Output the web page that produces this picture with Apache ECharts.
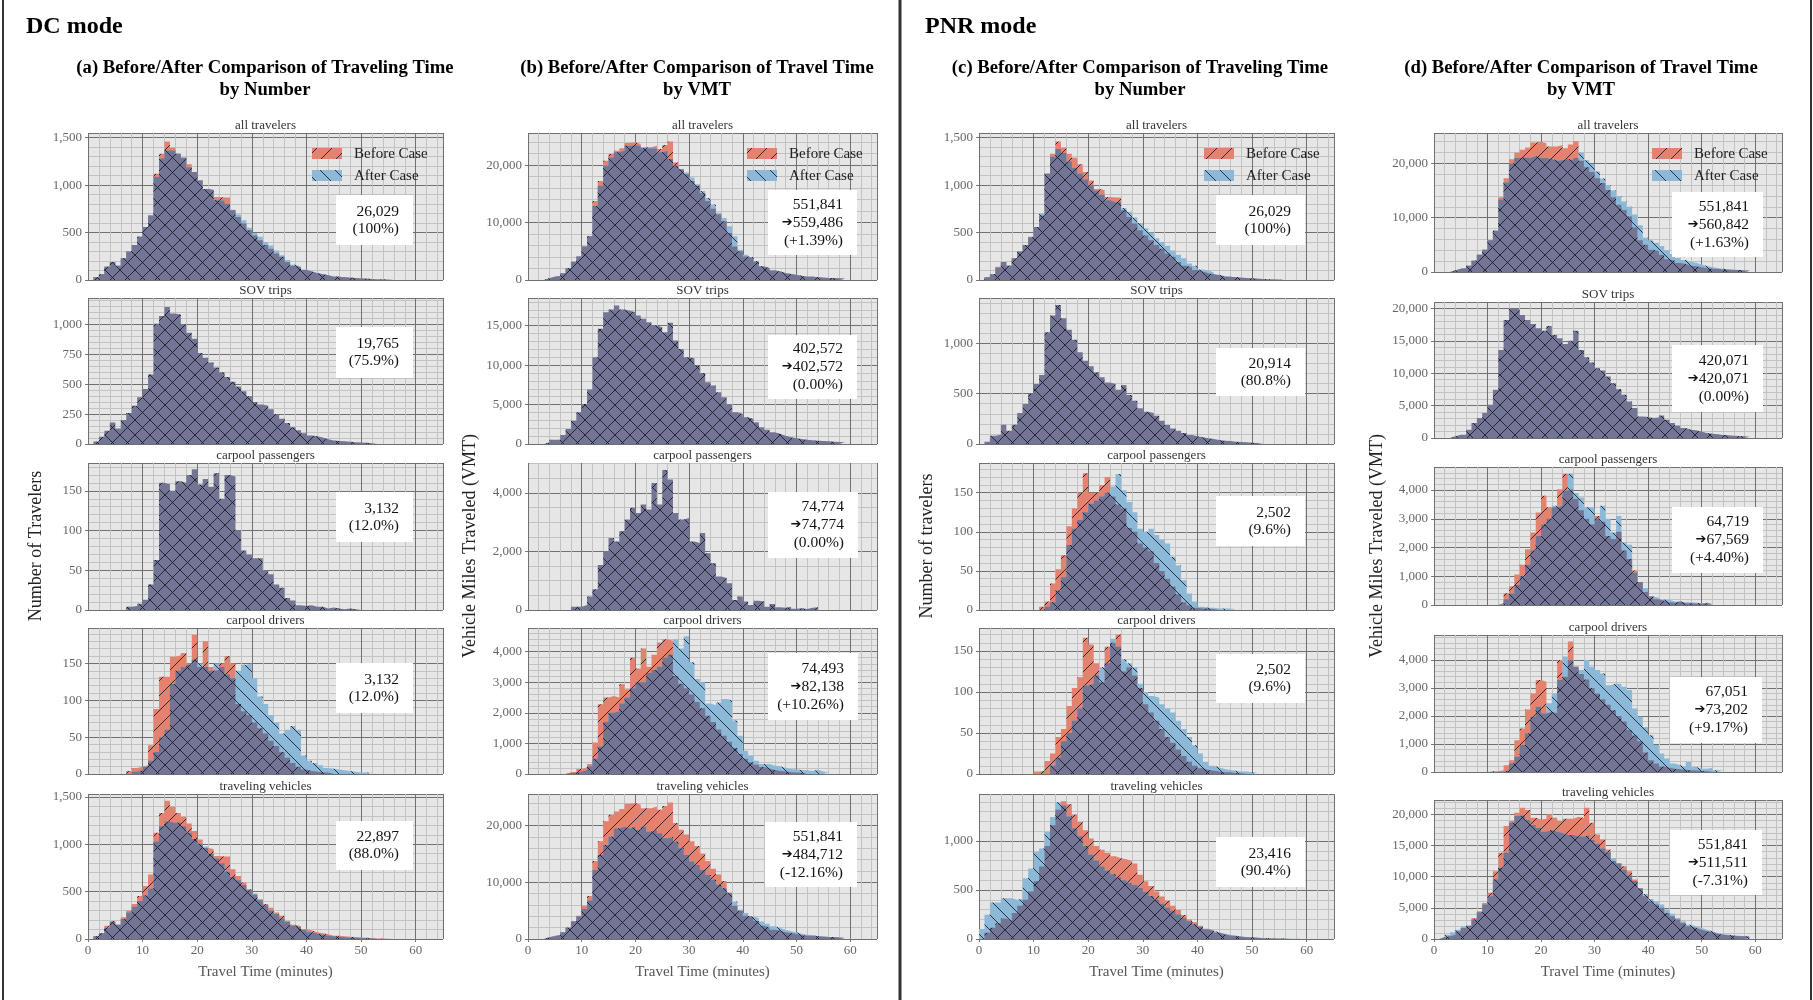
<!DOCTYPE html>
<html>
<head>
<meta charset="utf-8">
<title>Before/After Comparison of Travel Time</title>
<script src="https://cdn.jsdelivr.net/npm/echarts@6/dist/echarts.min.js"></script>
<style>
html, body { margin: 0; padding: 0; background: #fff; }
#main { width: 1813px; height: 1000px; }
</style>
</head>
<body>
<div id="main"></div>
<script>
// histogram bins are 1 minute wide, array index = bin start (minutes)
var beforeAllNum = [0,30,60,140,190,150,230,300,370,455,560,680,1120,1330,1460,1395,1330,1290,1220,1140,1050,960,950,875,870,870,735,665,595,525,470,420,370,330,280,245,190,150,135,105,90,70,60,50,35,35,28,25,20,15,12,10,5,4,3,2];
var dcAllNumAfter = [0,30,60,140,190,150,230,300,370,455,560,680,1085,1280,1365,1365,1330,1290,1190,1140,1050,960,950,840,835,805,740,690,630,550,495,455,400,365,310,260,210,160,140,110,92,72,62,50,36,35,28,25,20,15,12,10,5,4,3,2];
var dcSovNum = [0,20,60,110,180,130,200,260,320,390,460,580,1005,1070,1145,1090,1080,1000,930,880,760,720,680,640,600,560,520,480,440,400,350,330,320,290,250,210,175,140,115,90,70,65,55,40,30,25,22,18,15,12,10,6,4];
var dcPassNum = [0,0,0,0,0,0,0,4,5,8,13,32,63,160,158,150,162,160,170,177,158,165,155,172,140,170,168,100,75,70,65,65,50,45,32,28,15,12,6,5,6,4,4,2,3,2,1,2,1,0,1];
var dcDrvNumBefore = [0,0,0,0,0,0,0,4,8,10,12,39,88,132,132,159,161,164,150,189,145,180,145,141,150,160,150,95,85,80,70,62,55,45,38,30,22,15,10,6,4,3,2,2];
var dcDrvNumAfter = [0,0,0,0,0,0,0,0,3,5,10,18,30,50,60,122,140,145,148,155,150,145,140,150,145,135,130,140,148,150,130,105,95,80,70,55,60,65,60,25,18,15,12,8,7,6,5,4,3,2,2,2];
var dcVehNumAfter = [0,30,60,120,180,150,210,280,340,400,460,530,1030,1190,1240,1225,1230,1190,1120,1055,1005,975,900,850,800,710,655,620,570,515,480,410,355,300,265,215,180,140,125,95,70,55,45,35,28,25,18,15,12,10,8,5];

var beforeAllVmt = [0,0,0,290,585,700,1170,2050,3200,4100,5850,7600,13750,17250,20770,21940,22500,22930,23870,24000,23700,23100,23100,23400,22800,23500,24100,20475,19300,18430,17250,16400,15100,13750,12400,11400,10240,8200,5850,5000,4100,3800,3200,2340,2050,1640,1460,1170,1050,880,700,585,585,470,410,350,350,290,230];
var dcAllVmtAfter = [0,0,0,290,585,700,1170,2050,3200,4100,5850,7600,12900,16400,19900,21350,22230,22500,23400,23500,23300,22930,22900,22900,22230,22500,21060,19900,19300,18700,17850,16670,15500,14300,13160,11700,10800,9360,7600,5270,4400,4000,3300,2400,2100,1700,1500,1200,1050,900,720,600,590,480,420,360,350,300,240];
var dcSovVmt = [0,0,0,210,550,550,1140,1900,2960,4020,5080,6900,11000,14600,16700,17050,17550,17050,16900,16700,16290,15860,15440,15000,14800,14170,15350,13100,12050,11000,10870,9940,9000,7820,7400,6560,5920,5080,4020,3800,3380,3170,2750,2120,1820,1480,1270,1060,850,720,630,550,465,420,380,340,300,250,210];
var dcPassVmt = [0,0,0,0,0,0,0,0,115,115,170,460,710,1540,2000,2460,2340,2690,3090,3490,3310,3600,3430,4340,3600,4780,4460,3310,3090,3140,2340,2290,2630,1940,1600,1140,1090,915,340,460,290,170,320,290,115,205,90,80,115,45,57,34,80,90];
var dcDrvVmtBefore = [0,0,0,0,0,0,0,55,75,160,220,330,1030,2280,2500,2550,2500,2935,2770,3800,3450,4100,3500,3900,4300,4400,4350,3200,2950,2800,2600,2350,2150,1900,1700,1450,1250,1050,850,650,500,380,300,230,180,130,100,80,60,50,40];
var dcDrvVmtAfter = [0,0,0,0,0,0,0,30,40,80,120,250,500,900,1700,2000,2050,2300,2500,2800,3000,3000,3300,3400,3500,3800,3900,4400,4100,4500,3650,3100,3000,2300,2250,2340,2450,2400,1750,1250,760,600,435,330,330,270,250,200,160,150,130,120,100,140,80,60];
var dcVehVmtAfter = [0,0,0,290,500,700,1170,2000,3100,4000,5300,6800,12200,14840,16600,18060,19530,19820,19530,19820,19240,19820,18940,19240,18650,17770,17950,17180,16010,14840,13670,13080,12200,11320,10440,9560,8970,8090,6630,5160,4570,3990,3700,3110,2700,2230,1940,1640,1350,1170,940,760,700,470,470,350,350,230,180];

var pnrAllNumAfter = [0,30,60,130,190,150,230,300,370,450,560,700,1120,1300,1380,1340,1250,1180,1120,1060,1000,940,900,840,820,820,760,720,660,600,545,500,440,400,360,310,265,230,175,150,110,100,80,55,42,35,28,25,20,15,12,10,5,4,3,2];
var pnrSovNum = [0,23,83,93,190,132,190,308,397,497,596,685,1110,1275,1380,1250,1135,1035,910,828,771,712,662,612,596,540,586,487,430,354,321,308,281,232,189,155,132,109,89,76,66,56,50,40,33,30,23,20,17,13,10,7];
var pnrPassNumBefore = [0,0,0,0,0,0,0,0,0,0,0,4,11,34,52,70,107,130,150,175,150,150,160,170,145,135,130,105,100,85,80,75,60,50,40,30,20,10,6,3,2,2,1];
var pnrPassNumAfter = [0,0,0,0,0,0,0,0,0,0,0,0,4,10,25,42,83,104,115,125,136,140,145,150,158,174,153,138,125,104,100,104,96,90,85,68,57,38,21,11,4,3,3,2,2,2,1];
var pnrDrvNumBefore = [0,0,0,0,0,0,0,0,0,0,3,4,16,25,45,55,83,105,118,166,158,135,112,155,160,170,125,130,120,105,85,75,65,55,45,38,30,22,15,10,7,5,4,3,2,2,1,1];
var pnrDrvNumAfter = [0,0,0,0,0,0,0,0,0,0,0,0,0,10,20,40,50,65,80,108,110,120,130,135,165,155,140,135,130,110,100,95,93,85,80,75,65,55,45,35,25,15,10,8,6,5,4,3,3,2,2];
var pnrVehNumBefore = [0,63,116,160,210,190,265,340,400,485,590,740,950,1160,1320,1405,1375,1270,1195,1110,1025,950,910,880,845,825,815,795,770,655,590,540,485,435,390,340,295,245,200,170,135,105,85,63,48,37,30,23,19,15,12,8,6,4,3,2];
var pnrVehNumAfter = [101,247,372,372,416,416,400,410,619,720,889,923,1092,1244,1396,1362,1250,1130,1050,950,860,800,740,700,660,630,600,575,550,520,480,440,400,360,320,285,250,215,180,150,125,100,85,68,53,44,34,27,21,17,13,10,8,6,5,4,3,3,2];

var pnrAllVmtAfter = [0,0,0,290,585,700,1170,2050,3200,4100,5850,7600,13350,16500,20000,21000,21100,21000,21300,21000,21000,20800,20500,20600,20800,20600,21000,22000,20600,19900,18500,17200,16000,15000,14000,13000,12000,10600,8600,6300,5800,5400,4800,4000,3300,2600,2200,1900,1700,1400,1100,900,700,600,500,450,380,330,280];
var pnrSovVmt = [0,0,0,260,510,510,1280,2310,3080,3850,5130,7440,13590,18210,20000,19850,18980,18210,17600,16930,16570,17290,15900,15390,14520,15030,16570,13590,12460,11640,10770,10410,9490,8460,7540,6670,5640,4620,3330,3230,3080,3180,3490,2820,2310,1900,1540,1280,1180,975,770,670,560,460,410,360,310,260,200];
var pnrPassVmtBefore = [0,0,0,0,0,0,0,0,0,0,0,0,60,410,650,1060,1400,1940,2520,3220,3800,3400,3400,4030,4560,4030,3690,3300,3000,2800,3100,2900,2400,2300,2550,1900,1600,1200,800,450,300,200,150,100,80,120,60,60,50,40,80,30];
var pnrPassVmtAfter = [0,0,0,0,0,0,0,0,0,0,0,0,30,200,400,700,1000,1400,1900,2400,2800,3000,3450,3450,3980,4560,3900,3740,3400,3400,3000,3450,3000,2520,3100,2170,2100,1120,800,590,300,250,180,180,120,120,100,100,80,60,60,40];
var pnrDrvVmtBefore = [0,0,0,0,0,0,0,0,0,0,24,30,60,240,420,1130,1550,2230,2800,3280,3220,2150,2100,4000,3400,4660,3760,3500,3300,3000,2800,2600,2400,2200,2000,1800,1500,1300,1100,700,420,300,200,150,120,100,80,60,50,40,30];
var pnrDrvVmtAfter = [0,0,0,0,0,0,0,0,0,0,0,0,0,60,300,540,960,1370,1970,2330,2090,2450,2800,3280,4120,4000,3760,3640,4000,3760,3640,3520,3100,3160,3140,3040,2930,2270,1970,1610,1310,960,660,480,300,240,200,360,180,120,120,155,60,60];
var pnrVehVmtBefore = [0,270,430,700,1230,1770,2140,3380,4450,5790,7400,10880,13830,18120,18920,20260,21060,20690,19460,19190,19300,20000,19460,18920,19300,19300,19620,19400,21065,18650,16780,15970,14360,12490,12110,11690,10880,9540,8200,6860,6060,5520,5000,4180,3640,3110,2570,2040,1770,1500,1230,1070,860,700,590,540,430,430,320];
var pnrVehVmtAfter = [0,320,700,1070,1500,2040,2140,3110,4290,5520,6860,9540,11420,13830,18650,19730,19900,19100,18300,17800,17200,17500,17200,17000,16700,16700,16500,16400,16700,15900,15300,14500,13900,13000,12100,11100,10200,9300,8100,7200,6400,6060,5520,4720,4070,3380,2840,2300,2040,1770,1500,1230,960,800,700,590,540,430,375];

// panels: col 0..3 (a..d), row 0..4
var panels = [
    {col:0, row:0, name:'all travelers', before:beforeAllNum, after:dcAllNumAfter, max:1550, step:500, minor:5, box:['26,029','(100%)'], legend:true},
    {col:0, row:1, name:'SOV trips', before:dcSovNum, after:dcSovNum, max:1220, step:250, minor:5, box:['19,765','(75.9%)']},
    {col:0, row:2, name:'carpool passengers', before:dcPassNum, after:dcPassNum, max:185, step:50, minor:5, box:['3,132','(12.0%)']},
    {col:0, row:3, name:'carpool drivers', before:dcDrvNumBefore, after:dcDrvNumAfter, max:198, step:50, minor:5, box:['3,132','(12.0%)']},
    {col:0, row:4, name:'traveling vehicles', before:beforeAllNum, after:dcVehNumAfter, max:1530, step:500, minor:5, box:['22,897','(88.0%)']},

    {col:1, row:0, name:'all travelers', before:beforeAllVmt, after:dcAllVmtAfter, max:25600, step:10000, minor:5, box:['551,841','{a|\u2794}559,486','(+1.39%)'], legend:true},
    {col:1, row:1, name:'SOV trips', before:dcSovVmt, after:dcSovVmt, max:18500, step:5000, minor:5, box:['402,572','{a|\u2794}402,572','(0.00%)']},
    {col:1, row:2, name:'carpool passengers', before:dcPassVmt, after:dcPassVmt, max:5020, step:2000, minor:4, box:['74,774','{a|\u2794}74,774','(0.00%)']},
    {col:1, row:3, name:'carpool drivers', before:dcDrvVmtBefore, after:dcDrvVmtAfter, max:4770, step:1000, minor:5, box:['74,493','{a|\u2794}82,138','(+10.26%)']},
    {col:1, row:4, name:'traveling vehicles', before:beforeAllVmt, after:dcVehVmtAfter, max:25600, step:10000, minor:5, box:['551,841','{a|\u2794}484,712','(-12.16%)']},

    {col:2, row:0, name:'all travelers', before:beforeAllNum, after:pnrAllNumAfter, max:1550, step:500, minor:5, box:['26,029','(100%)'], legend:true},
    {col:2, row:1, name:'SOV trips', before:pnrSovNum, after:pnrSovNum, max:1450, step:500, minor:5, box:['20,914','(80.8%)']},
    {col:2, row:2, name:'carpool passengers', before:pnrPassNumBefore, after:pnrPassNumAfter, max:188, step:50, minor:5, box:['2,502','(9.6%)']},
    {col:2, row:3, name:'carpool drivers', before:pnrDrvNumBefore, after:pnrDrvNumAfter, max:178, step:50, minor:5, box:['2,502','(9.6%)']},
    {col:2, row:4, name:'traveling vehicles', before:pnrVehNumBefore, after:pnrVehNumAfter, max:1480, step:500, minor:5, box:['23,416','(90.4%)']},

    {col:3, row:0, name:'all travelers', before:beforeAllVmt, after:pnrAllVmtAfter, max:25600, step:10000, minor:5, box:['551,841','{a|\u2794}560,842','(+1.63%)'], legend:true},
    {col:3, row:1, name:'SOV trips', before:pnrSovVmt, after:pnrSovVmt, max:21000, step:5000, minor:5, box:['420,071','{a|\u2794}420,071','(0.00%)']},
    {col:3, row:2, name:'carpool passengers', before:pnrPassVmtBefore, after:pnrPassVmtAfter, max:4800, step:1000, minor:5, box:['64,719','{a|\u2794}67,569','(+4.40%)']},
    {col:3, row:3, name:'carpool drivers', before:pnrDrvVmtBefore, after:pnrDrvVmtAfter, max:4890, step:1000, minor:5, box:['67,051','{a|\u2794}73,202','(+9.17%)']},
    {col:3, row:4, name:'traveling vehicles', before:pnrVehVmtBefore, after:pnrVehVmtAfter, max:22300, step:5000, minor:5, box:['551,841','{a|\u2794}511,511','(-7.31%)']}
];

// layout (pixels)
var colLeft = [88, 528, 979, 1434];
var colWidth = [355, 349, 355, 348];
var rowTop = [[133,298,463,628,794],[133,298,463,628,794],[133,298,463,628,794],[133,302,467,635,800]];
var rowBottom = [[280,444,610,774,939],[280,444,610,774,939],[280,444,610,774,939],[272,438,605,772,939]];
var boxPos = [
    [[336,195,77,50],[336,327,77,51],[336,492,77,50],[336,663,77,50],[336,821,77,49]],
    [[768,190,89,65],[768,335,89,64],[768,492,90,66],[768,653,90,67],[765,822,92,65]],
    [[1216,195,89,50],[1216,348,89,48],[1216,496,89,50],[1216,654,89,49],[1216,837,89,50]],
    [[1672,192,91,65],[1672,345,91,67],[1672,507,91,66],[1670,677,92,66],[1670,830,92,65]]
];
var legendX = [312, 747, 1204, 1652];
var colTitles = [
    ['(a) Before/After Comparison of Traveling Time', 'by Number', 265],
    ['(b) Before/After Comparison of Travel Time', 'by VMT', 697],
    ['(c) Before/After Comparison of Traveling Time', 'by Number', 1140],
    ['(d) Before/After Comparison of Travel Time', 'by VMT', 1581]
];
var yNames = [['Number of Travelers', 36], ['Vehicle Miles Traveled (VMT)', 470], ['Number of travelers', 927], ['Vehicle Miles Traveled (VMT)', 1377]];

var SERIF = '"Liberation Serif", "DejaVu Serif", serif';
var HATCH = 15;

function makePattern(fill, slash, back) {
    var c = document.createElement('canvas');
    c.width = HATCH;
    c.height = HATCH;
    var g = c.getContext('2d');
    g.fillStyle = fill;
    g.fillRect(0, 0, HATCH, HATCH);
    g.strokeStyle = 'rgba(22,22,40,0.85)';
    g.lineWidth = 1;
    for (var k = -HATCH; k <= HATCH; k += HATCH) {
        if (slash) { g.beginPath(); g.moveTo(k, HATCH); g.lineTo(k + HATCH, 0); g.stroke(); }
        if (back) { g.beginPath(); g.moveTo(k, 0); g.lineTo(k + HATCH, HATCH); g.stroke(); }
    }
    return {image: c, repeat: 'repeat'};
}

var redPat = makePattern('#E3826F', true, false);
var bluePat = makePattern('#8DB9D9', false, true);
var bothPat = makePattern('#727694', true, true);

function stepData(arr) {
    var d = arr.map(function (v, i) { return [i, v]; });
    d.push([arr.length, 0]);
    return d;
}

function histSeries(idx, arr, pat) {
    return {
        type: 'line', xAxisIndex: idx, yAxisIndex: idx,
        step: 'end', symbol: 'none', silent: true,
        data: stepData(arr),
        lineStyle: {opacity: 0},
        areaStyle: {color: pat, opacity: 1}
    };
}

var option = {animation: false, grid: [], xAxis: [], yAxis: [], series: [], graphic: []};
var g = option.graphic;

panels.forEach(function (p, i) {
    var top = rowTop[p.col][p.row];
    var h = rowBottom[p.col][p.row] - top;
    var left = colLeft[p.col];
    var w = colWidth[p.col];
    var last = p.row === 4;
    option.grid.push({left: left, top: top, width: w, height: h, show: true, backgroundColor: '#E6E6E6', borderWidth: 0});
    option.xAxis.push({
        type: 'value', gridIndex: i, min: 0, max: 65, interval: 10,
        axisLine: {show: false},
        axisTick: {show: last, length: 3, lineStyle: {color: '#777'}},
        axisLabel: {show: last, showMaxLabel: false, margin: 5, color: '#666', fontFamily: SERIF, fontSize: 13},
        splitLine: {show: true, lineStyle: {color: '#707070', width: 1}},
        minorTick: {show: false, splitNumber: 5},
        minorSplitLine: {show: true, lineStyle: {color: '#C2C2C2', width: 1}},
        name: last ? 'Travel Time (minutes)' : '', nameLocation: 'middle', nameGap: 26,
        nameTextStyle: {color: '#555', fontFamily: SERIF, fontSize: 15}
    });
    option.yAxis.push({
        type: 'value', gridIndex: i, min: 0, max: p.max, interval: p.step,
        axisLine: {show: false},
        axisTick: {show: true, length: 3, lineStyle: {color: '#777'}},
        axisLabel: {showMaxLabel: false, margin: 6, color: '#666', fontFamily: SERIF, fontSize: 13,
            formatter: function (v) { return v.toLocaleString('en-US'); }},
        splitLine: {show: true, lineStyle: {color: '#707070', width: 1}},
        minorTick: {show: false, splitNumber: p.minor},
        minorSplitLine: {show: true, lineStyle: {color: '#C2C2C2', width: 1}}
    });

    if (p.before === p.after) {
        option.series.push(histSeries(i, p.before, bothPat));
    } else {
        var n = Math.max(p.before.length, p.after.length);
        var common = [];
        for (var k = 0; k < n; k++) common.push(Math.min(p.before[k] || 0, p.after[k] || 0));
        option.series.push(histSeries(i, p.before, redPat));
        option.series.push(histSeries(i, p.after, bluePat));
        option.series.push(histSeries(i, common, bothPat));
    }

    // subplot title
    g.push({type: 'text', x: left + w / 2, y: top - 7,
        style: {text: p.name, align: 'center', verticalAlign: 'middle', fill: '#333', fontFamily: SERIF, fontSize: 13}});

    // value box
    var b = boxPos[p.col][p.row];
    var lh = p.box.length === 3 ? 18 : 17;
    g.push({type: 'rect', shape: {x: b[0], y: b[1], width: b[2], height: b[3]}, style: {fill: '#fff'}, z: 10});
    g.push({type: 'text', x: b[0] + b[2] - 14, y: b[1] + b[3] / 2, z: 11,
        style: {text: p.box.join('\n'), align: 'right', verticalAlign: 'middle', lineHeight: lh,
            fill: '#111', fontFamily: SERIF, fontSize: 15.5,
            rich: {a: {fontFamily: '"DejaVu Sans", sans-serif', fontSize: 13, fill: '#111', lineHeight: lh}}}});

    if (p.legend) {
        var lx = legendX[p.col];
        g.push({type: 'rect', shape: {x: lx, y: 148, width: 30, height: 11}, style: {fill: redPat}, z: 10});
        g.push({type: 'rect', shape: {x: lx, y: 170, width: 30, height: 11}, style: {fill: bluePat}, z: 10});
        g.push({type: 'text', x: lx + 42, y: 154, z: 10,
            style: {text: 'Before Case', verticalAlign: 'middle', fill: '#222', fontFamily: SERIF, fontSize: 15}});
        g.push({type: 'text', x: lx + 42, y: 176, z: 10,
            style: {text: 'After Case', verticalAlign: 'middle', fill: '#222', fontFamily: SERIF, fontSize: 15}});
    }
});

colTitles.forEach(function (t) {
    g.push({type: 'text', x: t[2], y: 68, style: {text: t[0], align: 'center', verticalAlign: 'middle',
        fill: '#000', fontFamily: SERIF, fontSize: 18.7, fontWeight: 'bold'}});
    g.push({type: 'text', x: t[2], y: 90, style: {text: t[1], align: 'center', verticalAlign: 'middle',
        fill: '#000', fontFamily: SERIF, fontSize: 18.7, fontWeight: 'bold'}});
});

yNames.forEach(function (t) {
    g.push({type: 'text', x: t[1], y: 546, rotation: Math.PI / 2,
        style: {text: t[0], align: 'center', verticalAlign: 'middle', fill: '#222', fontFamily: SERIF, fontSize: 18}});
});

g.push({type: 'text', x: 26, y: 27, style: {text: 'DC mode', verticalAlign: 'middle', fill: '#000',
    fontFamily: SERIF, fontSize: 24, fontWeight: 'bold'}});
g.push({type: 'text', x: 925, y: 27, style: {text: 'PNR mode', verticalAlign: 'middle', fill: '#000',
    fontFamily: SERIF, fontSize: 24, fontWeight: 'bold'}});

// frame lines
g.push({type: 'line', shape: {x1: 3, y1: 0, x2: 3, y2: 1000}, style: {stroke: '#333', lineWidth: 2}});
g.push({type: 'line', shape: {x1: 900, y1: 0, x2: 900, y2: 1000}, style: {stroke: '#333', lineWidth: 3}});
g.push({type: 'line', shape: {x1: 1811, y1: 0, x2: 1811, y2: 1000}, style: {stroke: '#333', lineWidth: 2}});

var chart = echarts.init(document.getElementById('main'));
chart.setOption(option);
</script>
</body>
</html>
